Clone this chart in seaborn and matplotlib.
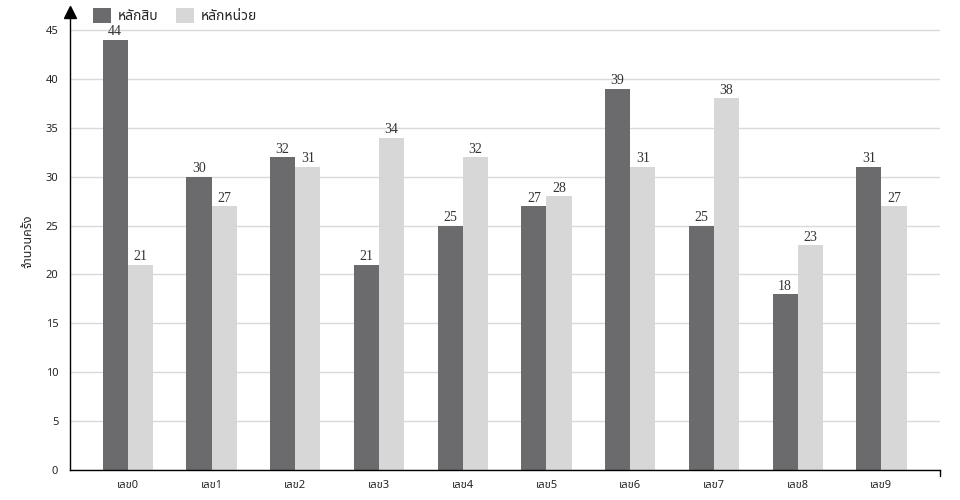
import matplotlib
matplotlib.use("Agg")
import matplotlib.pyplot as plt
import seaborn as sns
import pandas as pd
from matplotlib.patches import Patch

# data
categories = ["เลข0", "เลข1", "เลข2", "เลข3", "เลข4", "เลข5", "เลข6", "เลข7", "เลข8", "เลข9"]
tens = [44, 30, 32, 21, 25, 27, 39, 25, 18, 31]
units = [21, 27, 31, 34, 32, 28, 31, 38, 23, 27]
series_names = ["หลักสิบ", "หลักหน่วย"]
y_label = "จำนวนครั้ง"

df = pd.DataFrame({
    "cat": categories * 2,
    "value": tens + units,
    "series": [series_names[0]] * len(tens) + [series_names[1]] * len(units),
})

sns.set_style("white")
thai = ["Noto Sans Thai", "Noto Sans Thai Looped", "Loma", "Garuda", "Tlwg Typo", "Waree", "DejaVu Sans"]
plt.rcParams["font.family"] = thai

fig = plt.figure(figsize=(9.6, 5), dpi=100)
ax = fig.add_axes([70 / 960, 30 / 500, 870 / 960, 458 / 500])

palette = {series_names[0]: "#6b6b6d", series_names[1]: "#d7d7d7"}
sns.barplot(data=df, x="cat", y="value", hue="series", palette=palette,
            width=0.6, dodge=True, saturation=1, ax=ax, legend=False,
            edgecolor="none")

# value labels
for cont in ax.containers:
    ax.bar_label(cont, padding=1, fontsize=10, family="Liberation Serif", color="#333333")

ax.set_xlim(-0.69, 9.7)
ax.set_ylim(0, 46.84)
ax.set_yticks(range(0, 46, 5))
ax.yaxis.grid(True, color="#d9d9d9", linewidth=1)
ax.set_axisbelow(True)
ax.tick_params(axis="both", labelsize=8, length=5, width=1, color="black", direction="out")
ax.tick_params(axis="x", pad=2)
ax.set_xlabel("")
ax.set_ylabel(y_label, fontsize=9, labelpad=8)

for s in ["top", "right"]:
    ax.spines[s].set_visible(False)
for s in ["left", "bottom"]:
    ax.spines[s].set_color("black")
    ax.spines[s].set_linewidth(1)

# arrow head on y axis
ax.plot([-0.69], [46.84], marker="^", color="black", markersize=8, clip_on=False)
# end tick on x axis
ax.plot([9.7, 9.7], [0, -0.6], color="black", linewidth=1, clip_on=False)

handles = [Patch(facecolor=palette[n], edgecolor="none") for n in series_names]
fig.legend(handles, series_names, loc="upper left", bbox_to_anchor=(80 / 960, 1.01),
           ncol=2, frameon=False, fontsize=10, handlelength=1.3, handleheight=1.3,
           columnspacing=1.3, handletextpad=0.5)

fig.savefig("out.png", dpi=100)
